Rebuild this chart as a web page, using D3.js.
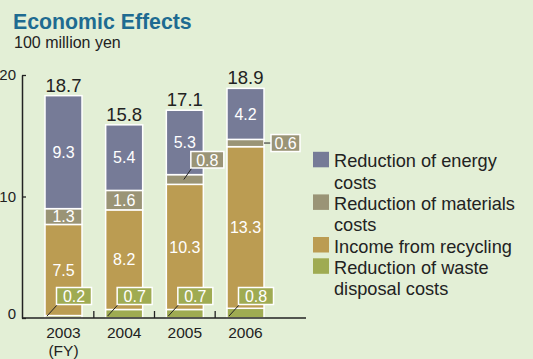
<!DOCTYPE html>
<html>
<head>
<meta charset="utf-8">
<script src="https://cdn.jsdelivr.net/npm/d3@7"></script>
<style>
  html, body { margin: 0; padding: 0; background: #e3efd6; }
  svg { display: block; font-family: "Liberation Sans", Arial, Helvetica, sans-serif; }
</style>
</head>
<body>
<svg id="chart" width="533" height="359"></svg>
<script>
// ---- data ----
const years = ["2003", "2004", "2005", "2006"];
const seriesNames = ["Reduction of waste disposal costs", "Income from recycling", "Reduction of materials costs", "Reduction of energy costs"];
const wasteValues = [0.2, 0.7, 0.7, 0.8];
const recyclingValues = [7.5, 8.2, 10.3, 13.3];
const materialsValues = [1.3, 1.6, 0.8, 0.6];
const energyValues = [9.3, 5.4, 5.3, 4.2];
const totals = [18.7, 15.8, 17.1, 18.9];
const yTicks = [0, 10, 20];
const legendLines = [
  ["Reduction of energy", "costs"],
  ["Reduction of materials", "costs"],
  ["Income from recycling"],
  ["Reduction of waste", "disposal costs"]
];

const colors = {
  energy: "#767b97",
  materials: "#9a9476",
  recycling: "#bb9c52",
  waste: "#9fab52"
};
const textColor = "#222222";

const svg = d3.select("#chart");

// title
svg.append("text").attr("x", 13).attr("y", 28.5)
  .attr("font-size", 21.3).attr("font-weight", "bold").attr("fill", "#1e6b91")
  .text("Economic Effects");
svg.append("text").attr("x", 14).attr("y", 48)
  .attr("font-size", 16).attr("fill", textColor)
  .text("100 million yen");

// scales
const y = d3.scaleLinear().domain([0, 20]).range([318, 75]);
const x = d3.scalePoint().domain(years).range([63.5, 245.5]);
const barW = 37;

// stacked data
const rows = years.map((yr, i) => ({
  year: yr,
  waste: wasteValues[i],
  recycling: recyclingValues[i],
  materials: materialsValues[i],
  energy: energyValues[i],
  total: totals[i]
}));
const keys = ["waste", "recycling", "materials", "energy"];
const stack = d3.stack().keys(keys)(rows);

const g = svg.append("g");
stack.forEach(layer => {
  g.selectAll(null).data(layer).enter().append("rect")
    .attr("x", d => x(d.data.year) - barW / 2)
    .attr("y", d => y(d[1]))
    .attr("width", barW)
    .attr("height", d => y(d[0]) - y(d[1]))
    .attr("fill", colors[layer.key])
    .attr("stroke", "#ffffff")
    .attr("stroke-width", 1.5);
});

// inside labels
function inside(key, cond) {
  const layer = stack.find(l => l.key === key);
  g.selectAll(null).data(layer.filter(cond)).enter().append("text")
    .attr("x", d => x(d.data.year))
    .attr("y", d => (y(d[0]) + y(d[1])) / 2)
    .attr("dy", "0.36em")
    .attr("text-anchor", "middle")
    .attr("font-size", 16).attr("fill", "#ffffff")
    .text(d => d.data[key]);
}
inside("energy", () => true);
inside("recycling", () => true);
inside("materials", d => d.data.materials >= 1);

// totals above bars
const energyLayer = stack.find(l => l.key === "energy");
g.selectAll(null).data(energyLayer).enter().append("text")
  .attr("x", d => x(d.data.year))
  .attr("y", d => y(d[1]) - 4)
  .attr("text-anchor", "middle")
  .attr("font-size", 18.5).attr("fill", textColor)
  .text(d => d.data.total.toFixed(1));

// callout boxes
function callout(cx, cy, bx, by, bw, bh, fill, label, lx, ly) {
  g.append("line").attr("x1", lx).attr("y1", ly).attr("x2", cx).attr("y2", cy)
    .attr("stroke", "#222").attr("stroke-width", 1);
  g.append("rect").attr("x", bx).attr("y", by).attr("width", bw).attr("height", bh)
    .attr("fill", fill).attr("stroke", "#ffffff").attr("stroke-width", 1.5);
  g.append("text").attr("x", bx + bw / 2).attr("y", by + bh / 2).attr("dy", "0.36em")
    .attr("text-anchor", "middle").attr("font-size", 16).attr("fill", "#ffffff")
    .text(label);
}
// waste labels
const wasteLayer = stack.find(l => l.key === "waste");
wasteLayer.forEach(d => {
  const left = x(d.data.year) - barW / 2;
  const bx = left + 11.5, by = 287.5, bw = 35, bh = 17;
  callout(bx + 1, by + bh, bx, by, bw, bh, colors.waste, d.data.waste.toFixed(1), left + 2, y(0) - 2);
});
// materials labels for small segments
const matLayer = stack.find(l => l.key === "materials");
matLayer.forEach((d, i) => {
  if (d.data.materials >= 1) return;
  const mid = (y(d[0]) + y(d[1])) / 2;
  const cx = x(d.data.year);
  if (i === 2) {
    const bx = cx + 6, by = mid - 28, bw = 33, bh = 16.5;
    callout(bx + 1, by + bh, bx, by, bw, bh, colors.materials, d.data.materials.toFixed(1), cx - 1, mid);
  } else {
    const bx = cx + barW / 2 + 7, by = mid - 8.5, bw = 29, bh = 17;
    callout(bx, mid, bx, by, bw, bh, colors.materials, d.data.materials.toFixed(1), cx + barW / 2, mid);
  }
});

// y axis
const yAxis = d3.axisLeft(y).tickValues(yTicks).tickSizeInner(-4).tickSizeOuter(0).tickPadding(6);
const ya = svg.append("g").attr("transform", "translate(22,0)").call(yAxis);
ya.select(".domain").attr("stroke", textColor).attr("stroke-width", 1.5);
ya.selectAll(".tick line").attr("stroke", textColor).attr("stroke-width", 1.3);
ya.selectAll(".tick text").attr("font-size", 15).attr("fill", textColor)
  .attr("font-family", "'Liberation Sans', Arial, sans-serif")
  .attr("dy", d => d === 0 ? "0" : "0.32em");

// x axis baseline and separators
svg.append("line").attr("x1", 22).attr("x2", 306).attr("y1", y(0)).attr("y2", y(0))
  .attr("stroke", textColor).attr("stroke-width", 1.5);
const seps = years.slice(1).map((yr, i) => (x(years[i]) + x(yr)) / 2);
svg.selectAll(null).data(seps).enter().append("line")
  .attr("x1", d => d).attr("x2", d => d).attr("y1", y(0)).attr("y2", y(0) - 7)
  .attr("stroke", textColor).attr("stroke-width", 1.3);
svg.selectAll(null).data(years).enter().append("text")
  .attr("x", d => x(d)).attr("y", 337.5)
  .attr("text-anchor", "middle").attr("font-size", 15.5).attr("fill", textColor)
  .text(d => d);
svg.append("text").attr("x", x("2003")).attr("y", 355.5)
  .attr("text-anchor", "middle").attr("font-size", 15.5).attr("fill", textColor)
  .text("(FY)");

// legend
const legendKeys = ["energy", "materials", "recycling", "waste"];
let line = 0;
const lh = 21.3, base0 = 167.3;
legendKeys.forEach((k, i) => {
  svg.append("rect").attr("x", 313).attr("y", base0 + lh * line - 15.5).attr("width", 16).attr("height", 15.5)
    .attr("fill", colors[k]);
  legendLines[i].forEach((t, j) => {
    svg.append("text").attr("x", 334).attr("y", base0 + lh * (line + j))
      .attr("font-size", 18.2).attr("fill", textColor).text(t);
  });
  line += legendLines[i].length;
});
</script>
</body>
</html>
